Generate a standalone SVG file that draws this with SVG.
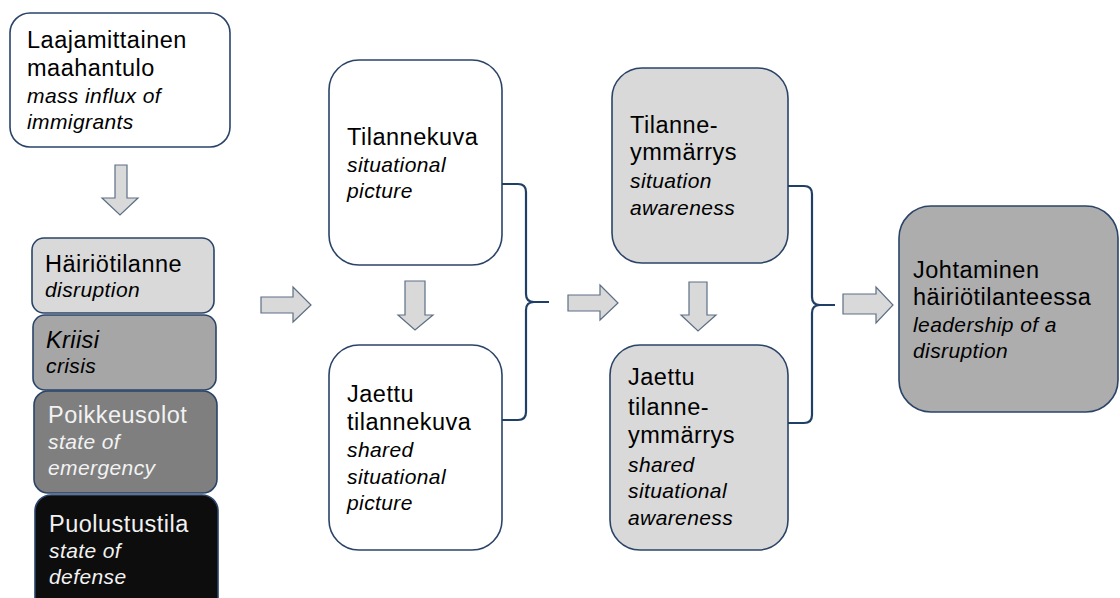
<svg xmlns="http://www.w3.org/2000/svg" width="1120" height="598" viewBox="0 0 1120 598">
<style>
.box{stroke:#2a4468;stroke-width:1.6}
.t{font-family:"Liberation Sans",Arial,sans-serif;font-size:23.5px;letter-spacing:0.5px;fill:#000}
.i{font-family:"Liberation Sans",Arial,sans-serif;font-size:21px;font-style:italic;letter-spacing:0.4px;fill:#000}
.w{fill:#f2f2f2}
.arr{fill:#d9d9d9;stroke:#5d6f85;stroke-width:1.2}
.brace{fill:none;stroke:#1f3f66;stroke-width:2.2}
</style>
<rect width="1120" height="598" fill="#fff"/>
<g id="n-influx">
<rect class="box" x="10" y="13" width="220" height="134" rx="20" fill="#fff"/>
<text class="t" x="27" y="48">Laajamittainen</text>
<text class="t" x="27" y="76">maahantulo</text>
<text class="i" x="27" y="103">mass influx of</text>
<text class="i" x="27" y="129">immigrants</text>
</g>
<g id="n-disruption">
<rect class="box" x="32" y="238" width="182" height="75" rx="12" fill="#d9d9d9"/>
<text class="t" x="45" y="272">Häiriötilanne</text>
<text class="i" x="45" y="297">disruption</text>
</g>
<g id="n-crisis">
<rect class="box" x="33" y="315" width="183" height="75" rx="12" fill="#a6a6a6"/>
<text class="i" x="46" y="348" style="font-size:23.5px">Kriisi</text>
<text class="i" x="46" y="373">crisis</text>
</g>
<g id="n-emergency">
<rect class="box" x="34" y="391" width="183" height="102" rx="14" fill="#7f7f7f"/>
<text class="t w" x="48" y="423">Poikkeusolot</text>
<text class="i w" x="48" y="449">state of</text>
<text class="i w" x="48" y="475">emergency</text>
</g>
<g id="n-defense">
<rect class="box" x="35" y="495" width="183" height="120" rx="16" fill="#0d0d0d"/>
<text class="t w" x="49" y="532">Puolustustila</text>
<text class="i w" x="49" y="558">state of</text>
<text class="i w" x="49" y="584">defense</text>
</g>
<g id="n-picture">
<rect class="box" x="329" y="60" width="173" height="205" rx="30" fill="#fff"/>
<text class="t" x="347" y="145">Tilannekuva</text>
<text class="i" x="347" y="172">situational</text>
<text class="i" x="347" y="198">picture</text>
</g>
<g id="n-shared-picture">
<rect class="box" x="329" y="345" width="173" height="205" rx="30" fill="#fff"/>
<text class="t" x="347" y="402">Jaettu</text>
<text class="t" x="347" y="430">tilannekuva</text>
<text class="i" x="347" y="457">shared</text>
<text class="i" x="347" y="484">situational</text>
<text class="i" x="347" y="510">picture</text>
</g>
<g id="n-awareness">
<rect class="box" x="612" y="68" width="176" height="195" rx="30" fill="#d9d9d9"/>
<text class="t" x="630" y="133">Tilanne-</text>
<text class="t" x="630" y="160">ymmärrys</text>
<text class="i" x="630" y="188">situation</text>
<text class="i" x="630" y="215">awareness</text>
</g>
<g id="n-shared-awareness">
<rect class="box" x="610" y="345" width="178" height="205" rx="30" fill="#d9d9d9"/>
<text class="t" x="628" y="385">Jaettu</text>
<text class="t" x="628" y="415">tilanne-</text>
<text class="t" x="628" y="443">ymmärrys</text>
<text class="i" x="628" y="472">shared</text>
<text class="i" x="628" y="498">situational</text>
<text class="i" x="628" y="525">awareness</text>
</g>
<g id="n-leadership">
<rect class="box" x="899" y="206" width="219" height="206" rx="32" fill="#adadad"/>
<text class="t" x="913" y="278">Johtaminen</text>
<text class="t" x="913" y="305">häiriötilanteessa</text>
<text class="i" x="913" y="332">leadership of a</text>
<text class="i" x="913" y="358">disruption</text>
</g>
<g id="connectors">
<path class="arr" d="M115,165 H127 V198 H138 L120,215 L102,198 H115 Z"/>
<path class="arr" d="M261,297 H293 V287 L311,305 L293,322 V313 H261 Z"/>
<path class="arr" d="M405,281 H425 V315 H433 L415,330 L398,315 H405 Z"/>
<path class="arr" d="M568,295 H600 V285 L618,303 L600,320 V311 H568 Z"/>
<path class="arr" d="M689,282 H707 V315 H716 L698,331 L681,315 H689 Z"/>
<path class="arr" d="M843,294 H876 V287 L893,305 L876,323 V314 H843 Z"/>
<path class="brace" d="M502,184 H518 Q526,184 526,192 V294 Q526,302 534,302 H549 M534,302 Q526,302 526,310 V412 Q526,420 518,420 H502"/>
<path class="brace" d="M788,186 H804 Q812,186 812,194 V297 Q812,305 820,305 H835 M820,305 Q812,305 812,313 V415 Q812,423 804,423 H788"/>
</g>
</svg>
